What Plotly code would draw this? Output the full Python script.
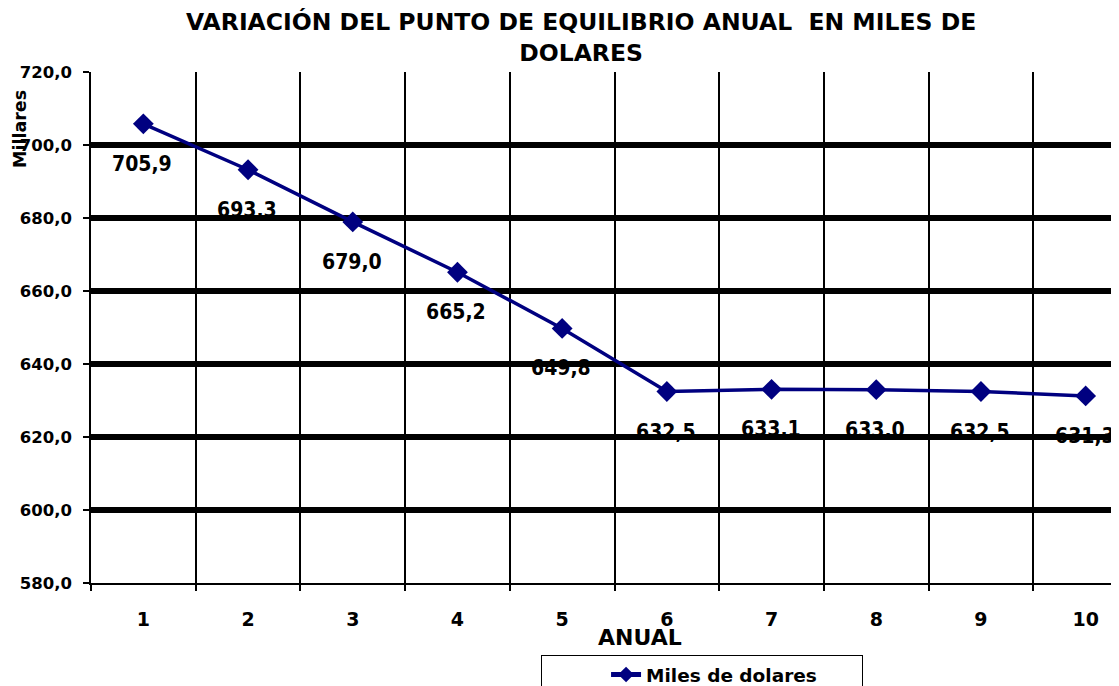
import plotly.graph_objects as go

years = [1, 2, 3, 4, 5, 6, 7, 8, 9, 10]
values = [705.9, 693.3, 679.0, 665.2, 649.8, 632.5, 633.1, 633.0, 632.5, 631.3]
value_labels = ["705,9", "693,3", "679,0", "665,2", "649,8", "632,5", "633,1", "633,0", "632,5", "631,3"]
y_ticks = [580, 600, 620, 640, 660, 680, 700, 720]
y_tick_text = ["580,0", "600,0", "620,0", "640,0", "660,0", "680,0", "700,0", "720,0"]
series_name = "Miles de dolares"
title_text = "VARIACIÓN DEL PUNTO DE EQUILIBRIO ANUAL  EN MILES DE<br>DOLARES"

NAVY = "#000080"
FONT = "DejaVu Sans, Liberation Sans, sans-serif"
COND = "DejaVu Sans Condensed, Liberation Sans Narrow, DejaVu Sans, sans-serif"

# figure geometry (page has an 8px body offset)
L, R, T, B = 83, 0, 64, 111
W, H = 1119, 686
PW = W - L - R
PH = H - T - B
CAT = 104.7

fig = go.Figure()
fig.add_trace(go.Scatter(
    x=years, y=values, mode="lines+markers", name="<b>" + series_name + "</b>",
    line=dict(color=NAVY, width=3.5),
    marker=dict(symbol="diamond", size=16, color=NAVY),
))

for xv, yv, lab in zip(years, values, value_labels):
    fig.add_annotation(x=xv, y=yv, text="<b>" + lab + "</b>", showarrow=False,
                       yshift=-40, xshift=-1,
                       font=dict(family=COND, size=21, color="black"))

fig.add_annotation(xref="paper", yref="paper", x=(573 - L) / PW, y=1, yshift=35,
                   text="<b>" + title_text + "</b>", showarrow=False,
                   font=dict(family=FONT, size=23.5, color="black"), align="center",
                   yanchor="middle")
fig.add_annotation(xref="paper", yref="paper", x=(632 - L) / PW, y=0, yshift=-54,
                   yanchor="middle",
                   text="<b>ANUAL</b>", showarrow=False,
                   font=dict(family=FONT, size=22, color="black"))
fig.add_annotation(xref="paper", yref="paper", x=0, xshift=12 - L, y=1, yshift=-(121 - T),
                   yanchor="middle", xanchor="center",
                   text="<b>Millares</b>", showarrow=False, textangle=-90,
                   font=dict(family=FONT, size=17.5, color="black"))

fig.update_layout(
    width=W, height=H,
    margin=dict(l=L, r=R, t=T, b=B),
    paper_bgcolor="white", plot_bgcolor="white",
    font=dict(family=FONT, color="black"),
    showlegend=True,
    legend=dict(xref="container", yref="container",
                x=533 / W, y=1 - 647 / H, xanchor="left", yanchor="top",
                orientation="h", bordercolor="black", borderwidth=1,
                bgcolor="white", font=dict(family=FONT, size=18.5, color="black"),
                title=dict(text="\u00a0" * 10, side="left", font=dict(size=17)),
                itemsizing="constant", entrywidth=210, entrywidthmode="pixels"),
)

fig.update_xaxes(
    range=[0.5, 0.5 + PW / CAT], tickvals=years,
    ticktext=["<b>%d</b>" % v for v in years],
    tickfont=dict(family=FONT, size=19, color="black"),
    ticks="", showgrid=False, zeroline=False,
    showline=True, linecolor="black", linewidth=2,
    ticklabelstandoff=18,
    minor=dict(tick0=0.5, dtick=1, showgrid=True, gridcolor="black", gridwidth=1.5,
               ticks="outside", ticklen=6, tickcolor="black", tickwidth=2),
)
fig.update_yaxes(
    range=[580, 720.1], tickvals=y_ticks,
    ticktext=["<b>%s</b>" % t for t in y_tick_text],
    tickfont=dict(family=FONT, size=16.5, color="black"),
    showgrid=True, gridcolor="black", gridwidth=6, zeroline=False,
    showline=True, linecolor="black", linewidth=1.5,
    ticks="outside", ticklen=6, tickcolor="black", tickwidth=2,
    ticklabelstandoff=8,
)

fig.write_html("out.html")
